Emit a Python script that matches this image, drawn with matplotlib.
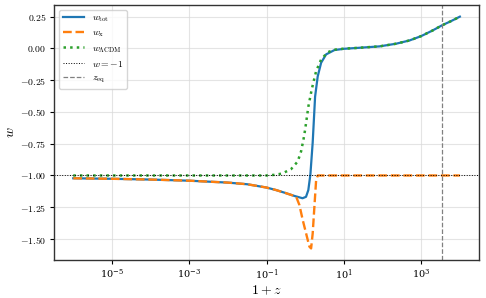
import numpy as np
import matplotlib
matplotlib.use("Agg")
import matplotlib.pyplot as plt
from matplotlib.ticker import FuncFormatter

plt.rcParams["mathtext.fontset"] = "cm"
plt.rcParams["font.family"] = ["DejaVu Serif"]

# log10(1+z) sample points and values
logx_tot = [-6.0, -5.0, -4.0, -3.0, -2.0, -1.5, -1.0, -0.75, -0.54, -0.28, -0.07,
            0.02, 0.08, 0.134, 0.167, 0.193, 0.219, 0.255, 0.323, 0.411, 0.54,
            0.755, 1.0, 1.4, 1.92, 2.35, 2.7, 3.0, 3.3, 3.54, 3.78, 4.0]
w_tot = [-1.022, -1.026, -1.032, -1.041, -1.056, -1.069, -1.095, -1.115, -1.135,
         -1.161, -1.179, -1.168, -1.115, -0.99, -0.85, -0.74, -0.59, -0.38, -0.22,
         -0.113, -0.047, -0.013, -0.003, 0.005, 0.016, 0.037, 0.063, 0.097, 0.142,
         0.182, 0.216, 0.25]

logx_x = [-6.0, -5.0, -4.0, -3.0, -2.0, -1.5, -1.0, -0.75, -0.54, -0.236, -0.151,
          -0.065, 0.0225, 0.108, 0.152, 0.193, 0.237, 0.281, 0.323, 1.0, 2.0, 3.0, 4.0]
w_x = [-1.022, -1.026, -1.032, -1.041, -1.056, -1.069, -1.095, -1.115, -1.135,
       -1.166, -1.232, -1.35, -1.456, -1.56, -1.574, -1.456, -1.246, -1.04, -1.0,
       -1.0, -1.0, -1.0, -1.0]

logx_lcdm = [-6.0, -4.0, -2.0, -1.0, -0.8, -0.6, -0.366, -0.195, -0.107, -0.091,
             -0.047, -0.003, 0.082, 0.167, 0.281, 0.411, 0.582, 0.755, 1.0, 1.4,
             1.92, 2.35, 2.7, 3.0, 3.3, 3.54, 3.78, 4.0]
w_lcdm = [-1.0, -1.0, -1.0, -1.0, -0.995, -0.985, -0.95, -0.89, -0.81, -0.784,
          -0.72, -0.64, -0.456, -0.324, -0.18, -0.087, -0.03, -0.01, -0.002, 0.005,
          0.016, 0.037, 0.063, 0.097, 0.142, 0.182, 0.216, 0.25]

z_eq = 3400
x_ticks = [1e-5, 1e-3, 1e-1, 1e1, 1e3]

fig = plt.figure(figsize=(4.86, 2.98), dpi=100)
ax = fig.add_axes([0.111, 0.1275, 0.875, 0.8555])

ax.plot(10.0 ** np.array(logx_tot), w_tot, color="tab:blue", lw=1.6, label=r"$w_{\rm tot}$")
ax.plot(10.0 ** np.array(logx_x), w_x, color="tab:orange", lw=1.7, ls="--", label=r"$w_{\rm x}$")
ax.plot(10.0 ** np.array(logx_lcdm), w_lcdm, color="tab:green", lw=1.8, ls=":", label=r"$w_{\Lambda\rm CDM}$")
ax.axhline(-1, color="k", ls=":", lw=0.7, label=r"$w=-1$")
ax.axvline(z_eq, color="gray", ls="--", lw=0.9, label=r"$z_{\rm eq}$")

ax.set_xscale("log")
ax.set_xticks(x_ticks)
ax.set_xlabel(r"$1+z$", fontsize=10, labelpad=1)
ax.set_ylabel(r"$w$", fontsize=10, labelpad=2)
ax.yaxis.set_major_formatter(FuncFormatter(lambda v, p: r"$%.2f$" % v))
ax.tick_params(labelsize=7, length=3, pad=2.5)
for s in ax.spines.values():
    s.set_color("0.2")
    s.set_linewidth(1.0)
ax.grid(True, color="0.85", lw=0.8, alpha=0.7)
ax.legend(loc="upper left", fontsize=7, framealpha=0.8, labelspacing=0.45,
          handlelength=2.2)

plt.savefig("out.png")
